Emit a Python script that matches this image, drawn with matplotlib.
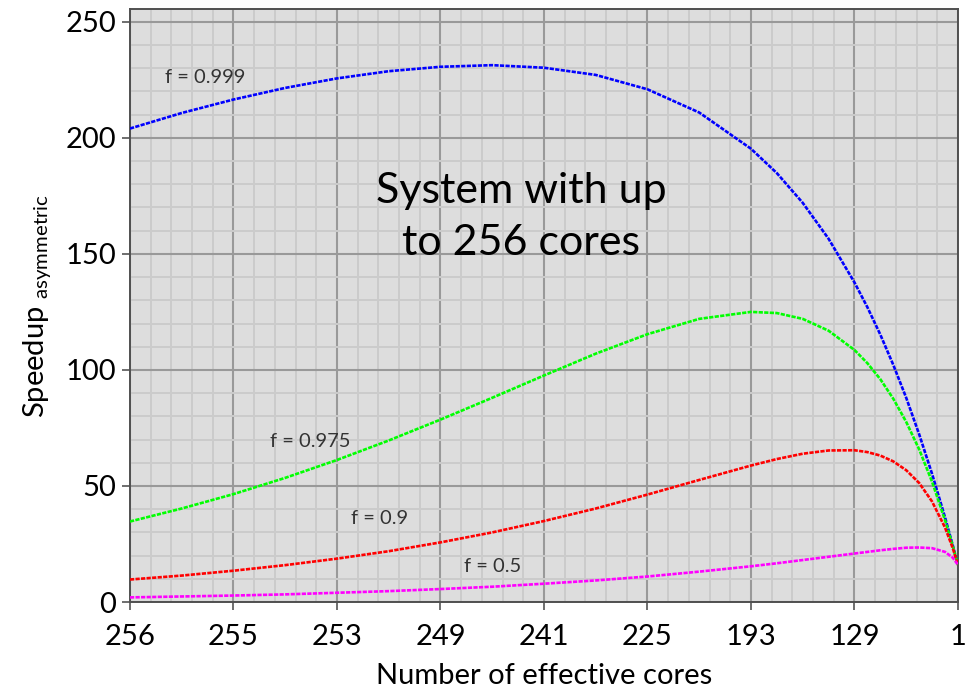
import matplotlib
matplotlib.use("Agg")
import matplotlib.pyplot as plt
from matplotlib.ticker import MultipleLocator, FixedLocator

plt.rcParams['font.family'] = ['Lato', 'DejaVu Sans']
plt.rcParams['mathtext.fontset'] = 'custom'
plt.rcParams['mathtext.rm'] = 'Lato'

# posição no eixo (log2 do tamanho do núcleo grande) e rótulos
x_pos = [0, 0.5, 1, 1.5, 2, 2.5, 3, 3.5, 4, 4.5, 5, 5.5, 6,
         6.25, 6.5, 6.75, 7, 7.125, 7.25, 7.375, 7.5, 7.625, 7.75, 7.875, 7.95, 8]
tick_labels = ['256', '255', '253', '249', '241', '225', '193', '129', '1']

# valores
s_0999 = [204.0, 210.7, 216.5, 221.5, 225.6, 228.7, 230.6, 231.3, 230.2, 227.1, 220.9, 210.9, 195.3,
          184.8, 172.0, 156.5, 137.7, 127.0, 115.2, 102.2, 88.0, 72.3, 55.2, 36.5, 24.4, 16.0]
s_0975 = [34.7, 40.3, 46.5, 53.5, 61.2, 69.6, 78.6, 88.0, 97.6, 107.0, 115.4, 122.0, 125.0,
          124.5, 122.0, 116.9, 108.6, 102.9, 96.0, 87.6, 77.6, 65.8, 51.8, 35.3, 24.1, 16.0]
s_09 = [9.7, 11.4, 13.5, 15.9, 18.7, 21.9, 25.7, 30.0, 34.9, 40.3, 46.3, 52.6, 58.8,
        61.6, 63.9, 65.3, 65.4, 64.6, 63.1, 60.6, 56.8, 51.3, 43.3, 32.1, 23.2, 16.0]
s_05 = [2.0, 2.4, 2.8, 3.3, 4.0, 4.7, 5.6, 6.6, 7.9, 9.3, 11.0, 13.1, 15.4,
        16.7, 18.1, 19.5, 20.9, 21.6, 22.3, 22.9, 23.4, 23.5, 23.2, 21.6, 19.1, 16.0]

fig = plt.figure(figsize=(9.65, 6.92), dpi=100)
ax = fig.add_axes([0.1347, 0.130, 0.858, 0.857])
ax.set_facecolor('#dddddd')

dash = (0, (1.6, 0.5))
ax.plot(x_pos, s_0999, color='#0000ff', lw=1.9, linestyle=dash, zorder=3)
ax.plot(x_pos, s_0975, color='#00ff00', lw=1.9, linestyle=dash, zorder=3)
ax.plot(x_pos, s_09, color='#ff0000', lw=1.9, linestyle=dash, zorder=3)
ax.plot(x_pos, s_05, color='#ff00ff', lw=1.9, linestyle=dash, zorder=3)

ax.set_xlim(0, 8)
ax.set_ylim(0, 255.5)
ax.xaxis.set_major_locator(FixedLocator(range(9)))
ax.set_xticklabels(tick_labels)
ax.xaxis.set_minor_locator(MultipleLocator(0.2))
ax.yaxis.set_major_locator(MultipleLocator(50))
ax.yaxis.set_minor_locator(MultipleLocator(10))

ax.grid(which='minor', color='#cbcbcb', lw=1.4, zorder=0)
ax.grid(which='major', color='#999999', lw=1.5, zorder=1)
ax.set_axisbelow(True)

ax.tick_params(which='major', length=6, width=1.2, color='#555555', labelsize=21, pad=4)
ax.tick_params(axis='x', pad=10)
ax.tick_params(which='minor', length=0)
for side in ['left', 'right', 'top', 'bottom']:
    ax.spines[side].set_color('#505050')
    ax.spines[side].set_linewidth(1.4)

ax.set_xlabel('Number of effective cores', fontsize=21, labelpad=9)
ax.set_ylabel(r'Speedup $_{\mathrm{asymmetric}}$', fontsize=21, labelpad=8)

# rótulos das curvas
ax.text(0.34, 226, 'f = 0.999', fontsize=14.5, color='#333333', va='center')
ax.text(1.35, 69, 'f = 0.975', fontsize=14.5, color='#333333', va='center')
ax.text(2.14, 35.8, 'f = 0.9', fontsize=14.5, color='#333333', va='center')
ax.text(3.23, 15.5, 'f = 0.5', fontsize=14.5, color='#333333', va='center')

ax.text(3.78, 166, 'System with up\nto 256 cores', fontsize=31, ha='center', va='center',
        linespacing=1.45)

fig.savefig('out.png', dpi=100)
